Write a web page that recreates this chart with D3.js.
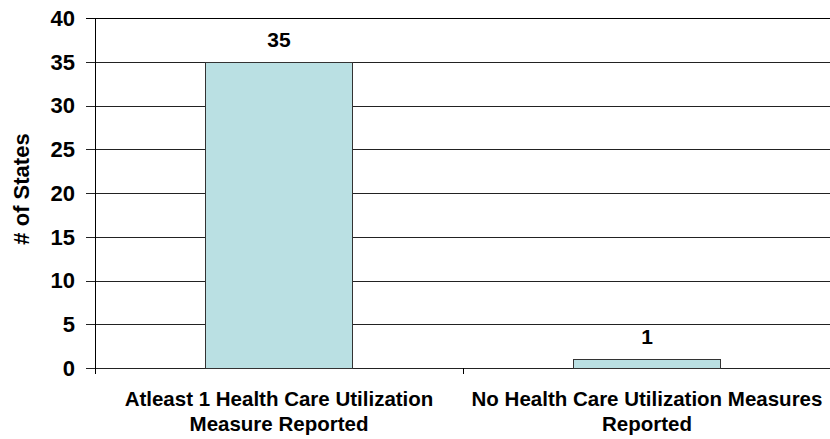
<!DOCTYPE html>
<html>
<head>
<meta charset="utf-8">
<script src="https://cdn.jsdelivr.net/npm/d3@7"></script>
<style>
  body { margin: 0; background: #fff; }
  text { font-family: "Liberation Sans", Arial, sans-serif; font-weight: bold; fill: #000; }
</style>
</head>
<body>
<div id="chart"></div>
<script>
// chart data
const categories = [
  ["Atleast 1 Health Care Utilization", "Measure Reported"],
  ["No Health Care Utilization Measures", "Reported"]
];
const values = [35, 1];
const yTicks = [0, 5, 10, 15, 20, 25, 30, 35, 40];
const yTitle = "# of States";

const width = 830, height = 439;
const margin = { top: 18, right: 0, bottom: 71, left: 95 };

const svg = d3.select('#chart').append('svg')
  .attr('width', width)
  .attr('height', height);

const x = d3.scaleBand()
  .domain(d3.range(values.length))
  .range([margin.left, width + 1])
  .paddingInner(0.6)
  .paddingOuter(0.3);

const y = d3.scaleLinear()
  .domain([0, 40])
  .range([height - margin.bottom, margin.top]);

// gridlines
svg.append('g')
  .selectAll('line')
  .data(yTicks)
  .enter().append('line')
  .attr('x1', margin.left - 9)
  .attr('x2', width)
  .attr('y1', d => Math.round(y(d)) + 0.5)
  .attr('y2', d => Math.round(y(d)) + 0.5)
  .attr('stroke', d => d === 40 ? '#000' : '#222')
  .attr('stroke-width', 1);

// y tick labels
svg.append('g')
  .selectAll('text')
  .data(yTicks)
  .enter().append('text')
  .attr('x', margin.left - 20)
  .attr('y', d => y(d))
  .attr('dy', '0.36em')
  .attr('text-anchor', 'end')
  .style('font-size', '22px')
  .text(d => d);

// y axis line
svg.append('line')
  .attr('x1', margin.left + 0.5).attr('x2', margin.left + 0.5)
  .attr('y1', y(40)).attr('y2', y(0) + 6)
  .attr('stroke', '#000');

// category separator tick
svg.append('g')
  .selectAll('line')
  .data(d3.range(1, values.length))
  .enter().append('line')
  .attr('x1', d => Math.round(x(d) - x.step() * x.paddingInner() / 2) + 0.5)
  .attr('x2', d => Math.round(x(d) - x.step() * x.paddingInner() / 2) + 0.5)
  .attr('y1', y(0))
  .attr('y2', y(0) + 6)
  .attr('stroke', '#000');

// bars
svg.append('g')
  .selectAll('rect')
  .data(values)
  .enter().append('rect')
  .attr('x', (d, i) => Math.round(x(i)) + 0.5)
  .attr('y', d => Math.round(y(d)) + 0.5)
  .attr('width', Math.round(x.bandwidth()))
  .attr('height', d => Math.round(y(0)) - Math.round(y(d)))
  .attr('fill', '#bae0e3')
  .attr('stroke', '#333')
  .attr('stroke-width', 1);

// value labels
svg.append('g')
  .selectAll('text')
  .data(values)
  .enter().append('text')
  .attr('x', (d, i) => x(i) + x.bandwidth() / 2)
  .attr('y', d => y(d) - 15)
  .attr('text-anchor', 'middle')
  .style('font-size', '21px')
  .text(d => d);

// category labels
const catG = svg.append('g')
  .selectAll('text')
  .data(categories)
  .enter().append('text')
  .attr('text-anchor', 'middle')
  .style('font-size', '20.5px');
catG.selectAll('tspan')
  .data((d, i) => d.map(line => ({ line, i })))
  .enter().append('tspan')
  .attr('x', d => x(d.i) + x.bandwidth() / 2)
  .attr('y', (d, j) => y(0) + 38 + j * 25)
  .text(d => d.line);

// y title
svg.append('text')
  .attr('transform', `translate(21,${(y(0) + y(40)) / 2 - 4}) rotate(-90)`)
  .attr('text-anchor', 'middle')
  .attr('dy', '0.35em')
  .style('font-size', '22px')
  .text(yTitle);
</script>
</body>
</html>
